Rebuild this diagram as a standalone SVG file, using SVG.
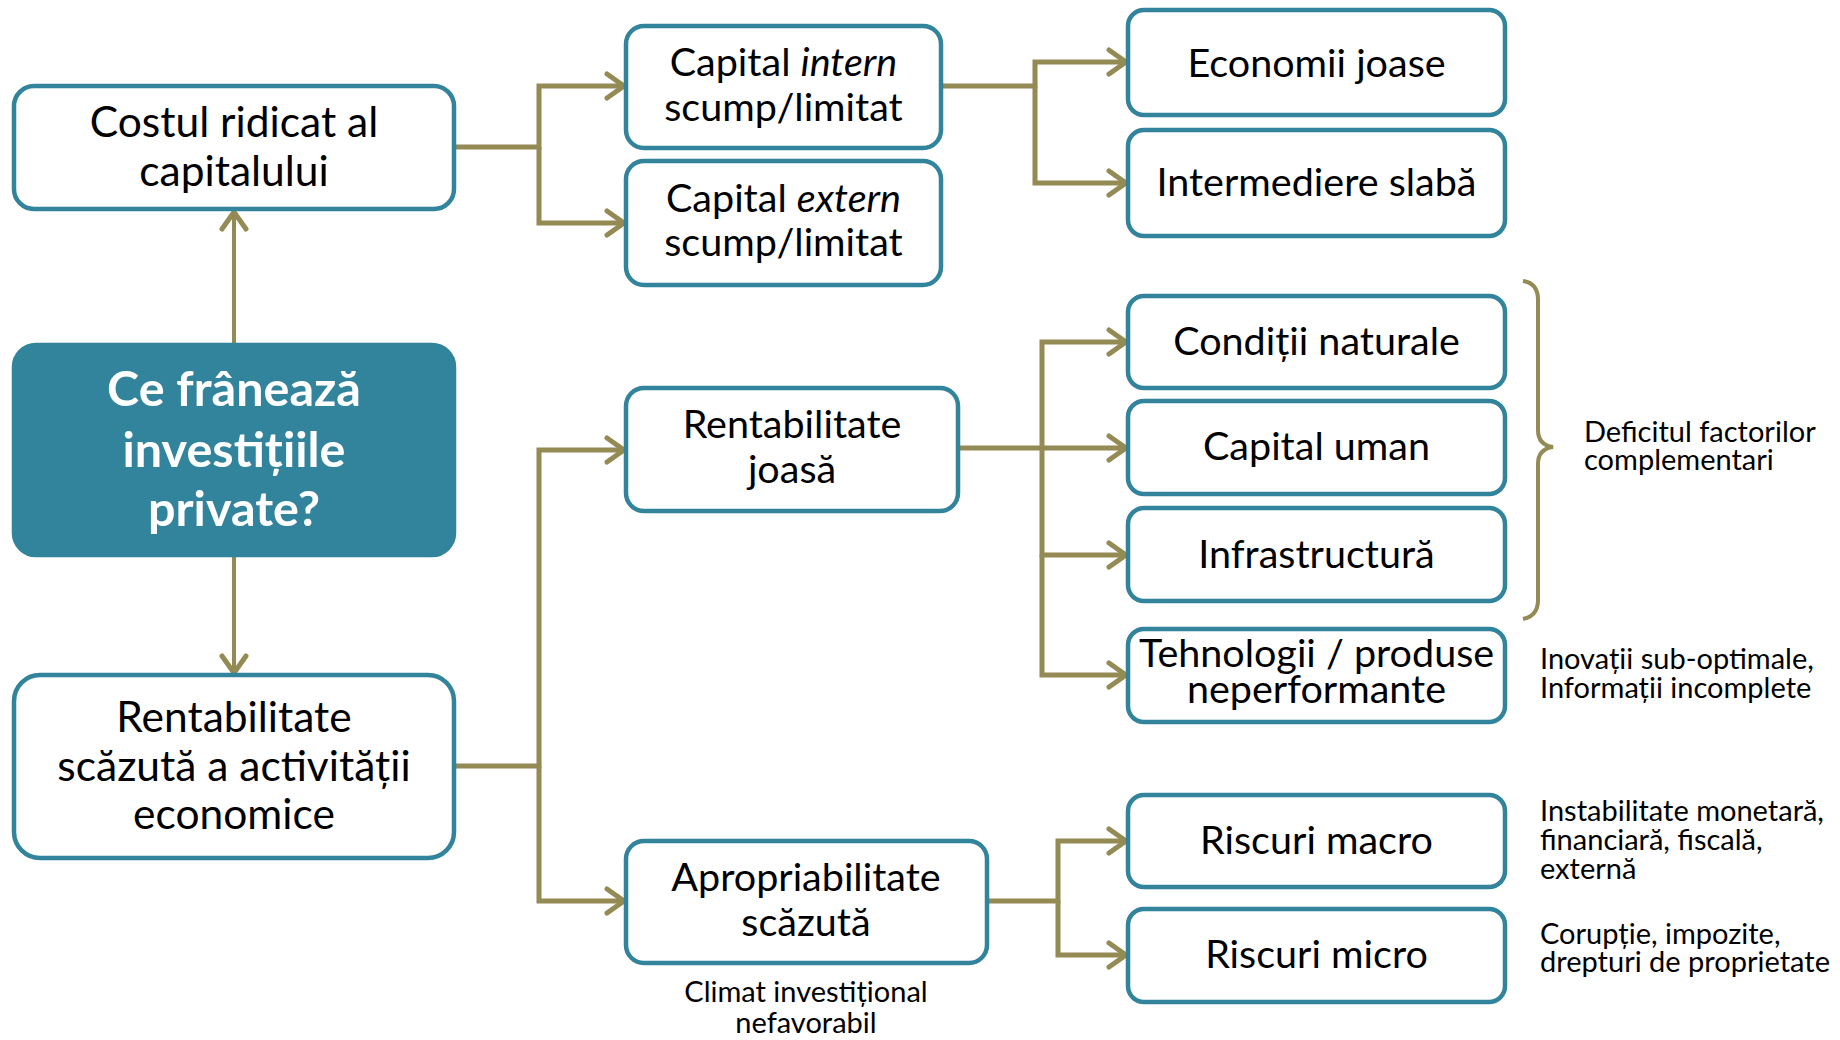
<svg xmlns="http://www.w3.org/2000/svg" width="1840" height="1040" viewBox="0 0 1840 1040">
<defs>
<style>
.box{fill:#ffffff;stroke:#31849B;stroke-width:4.5}
.main{fill:#31849B;stroke:#31849B;stroke-width:4.5}
.t{font-family:Lato,"Open Sans","Liberation Sans",sans-serif;font-size:39.5px;fill:#000;text-anchor:middle}
.tl{font-family:Lato,"Open Sans","Liberation Sans",sans-serif;font-size:42.5px;fill:#000;text-anchor:middle}
.title{font-family:Lato,"Open Sans","Liberation Sans",sans-serif;font-size:48.5px;font-weight:bold;fill:#fff;text-anchor:middle}
.s{font-family:Lato,"Open Sans","Liberation Sans",sans-serif;font-size:29px;fill:#000}
.c{fill:none;stroke:#948A54;stroke-width:5}
.thin{fill:none;stroke:#948A54;stroke-width:4}
</style>
<marker id="ah" markerUnits="userSpaceOnUse" viewBox="0 0 26 30" markerWidth="26" markerHeight="30" refX="22" refY="15" orient="auto" overflow="visible">
<path d="M5,3 L22,15 L5,27" fill="none" stroke="#948A54" stroke-width="5" stroke-linecap="round"/>
</marker>
</defs>
<rect width="1840" height="1040" fill="#ffffff"/>

<g id="connectors">
<path class="thin" d="M234,345 V212" marker-end="url(#ah)"/>
<path class="thin" d="M234,555 V673" marker-end="url(#ah)"/>
<path class="c" d="M454,147 H539 V86 H624" marker-end="url(#ah)"/>
<path class="c" d="M539,147 V223 H624" marker-end="url(#ah)"/>
<path class="c" d="M454,766 H539 V450 H624" marker-end="url(#ah)"/>
<path class="c" d="M539,766 V901 H624" marker-end="url(#ah)"/>
<path class="c" d="M941,86 H1035 V62 H1126" marker-end="url(#ah)"/>
<path class="c" d="M1035,86 V183 H1126" marker-end="url(#ah)"/>
<path class="c" d="M958,448 H1126" marker-end="url(#ah)"/>
<path class="c" d="M1042,448 V342 H1126" marker-end="url(#ah)"/>
<path class="c" d="M1042,448 V555 H1126" marker-end="url(#ah)"/>
<path class="c" d="M1042,555 V675 H1126" marker-end="url(#ah)"/>
<path class="c" d="M987,901 H1058 V841 H1126" marker-end="url(#ah)"/>
<path class="c" d="M1058,901 V955 H1126" marker-end="url(#ah)"/>
<path class="thin" d="M1523,281 Q1538,283 1538,300 V430 Q1538,445 1553,447 Q1538,449 1538,464 V600 Q1538,616 1523,619"/>
</g>

<g id="costul">
<rect class="box" x="14" y="86" width="440" height="123" rx="20"/>
<text class="tl" x="234" y="137">Costul ridicat al</text>
<text class="tl" x="234" y="186">capitalului</text>
</g>

<g id="intrebare">
<rect class="main" x="14" y="345" width="440" height="210" rx="22"/>
<text class="title" x="234" y="406">Ce frânează</text>
<text class="title" x="234" y="467">investițiile</text>
<text class="title" x="234" y="526">private?</text>
</g>

<g id="rentabilitate-scazuta">
<rect class="box" x="14" y="675" width="440" height="183" rx="26"/>
<text class="tl" x="234" y="732">Rentabilitate</text>
<text class="tl" x="234" y="781">scăzută a activității</text>
<text class="tl" x="234" y="829">economice</text>
</g>

<g id="capital-intern">
<rect class="box" x="626" y="26" width="315" height="122" rx="18"/>
<text class="t" x="783.5" y="76">Capital <tspan font-style="italic">intern</tspan></text>
<text class="t" x="783.5" y="121">scump/limitat</text>
</g>

<g id="capital-extern">
<rect class="box" x="626" y="161" width="315" height="124" rx="18"/>
<text class="t" x="783.5" y="212">Capital <tspan font-style="italic">extern</tspan></text>
<text class="t" x="783.5" y="256">scump/limitat</text>
</g>

<g id="rentabilitate-joasa">
<rect class="box" x="626" y="388" width="332" height="123" rx="18"/>
<text class="t" x="792" y="438">Rentabilitate</text>
<text class="t" x="792" y="483">joasă</text>
</g>

<g id="apropriabilitate">
<rect class="box" x="626" y="841" width="361" height="122" rx="18"/>
<text class="t" x="806" y="891">Apropriabilitate</text>
<text class="t" x="806" y="936">scăzută</text>
<text class="s" x="806" y="1002" text-anchor="middle">Climat investițional</text>
<text class="s" x="806" y="1033" text-anchor="middle">nefavorabil</text>
</g>

<g id="economii">
<rect class="box" x="1128" y="10" width="377" height="105" rx="16"/>
<text class="t" x="1316.5" y="77">Economii joase</text>
</g>

<g id="intermediere">
<rect class="box" x="1128" y="130" width="377" height="106" rx="16"/>
<text class="t" x="1316.5" y="196">Intermediere slabă</text>
</g>

<g id="conditii">
<rect class="box" x="1128" y="296" width="377" height="92" rx="16"/>
<text class="t" x="1316.5" y="355">Condiții naturale</text>
</g>

<g id="capital-uman">
<rect class="box" x="1128" y="401" width="377" height="93" rx="16"/>
<text class="t" x="1316.5" y="460">Capital uman</text>
</g>

<g id="infrastructura">
<rect class="box" x="1128" y="508" width="377" height="93" rx="16"/>
<text class="t" x="1316.5" y="568">Infrastructură</text>
</g>

<g id="tehnologii">
<rect class="box" x="1128" y="629" width="377" height="93" rx="16"/>
<text class="t" x="1316.5" y="667">Tehnologii / produse</text>
<text class="t" x="1316.5" y="703">neperformante</text>
</g>

<g id="riscuri-macro">
<rect class="box" x="1128" y="795" width="377" height="92" rx="16"/>
<text class="t" x="1316.5" y="854">Riscuri macro</text>
</g>

<g id="riscuri-micro">
<rect class="box" x="1128" y="909" width="377" height="93" rx="16"/>
<text class="t" x="1316.5" y="968">Riscuri micro</text>
</g>

<g id="note-deficit">
<text class="s" x="1584" y="442">Deficitul factorilor</text>
<text class="s" x="1584" y="470">complementari</text>
</g>

<g id="note-inovatii">
<text class="s" x="1540" y="669">Inovații sub-optimale,</text>
<text class="s" x="1540" y="698">Informații incomplete</text>
</g>

<g id="note-macro">
<text class="s" x="1540" y="821">Instabilitate monetară,</text>
<text class="s" x="1540" y="850">financiară, fiscală,</text>
<text class="s" x="1540" y="879">externă</text>
</g>

<g id="note-micro">
<text class="s" x="1540" y="944">Corupție, impozite,</text>
<text class="s" x="1540" y="972">drepturi de proprietate</text>
</g>
</svg>
